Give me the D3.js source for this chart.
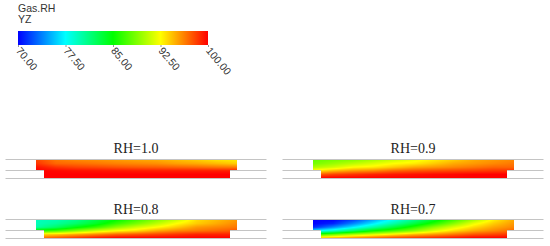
<!DOCTYPE html>
<html>
<head>
<meta charset="utf-8">
<script src="https://cdn.jsdelivr.net/npm/d3@7"></script>
<style>
body { margin: 0; background: #fff; }
svg { display: block; }
</style>
</head>
<body>
<script>
// legend
var legendTicks = [70, 77.5, 85, 92.5, 100];
var legendColors = ["#0000ff", "#00ffff", "#00ff00", "#ffff00", "#ff0000"];
var panelTitles = ["RH=1.0", "RH=0.9", "RH=0.8", "RH=0.7"];

// RH, one row per depth, one value per station along the channel
var fieldRH10 = [
    [98, 96.5, 96, 95.8, 95.5, 95.2, 95, 94.5, 94, 93.3, 93],
    [98.5, 97, 96.8, 96.5, 96.2, 96, 95.8, 95.3, 95, 94.5, 94],
    [99.5, 98.5, 98, 97.8, 97.5, 97.3, 97.2, 97, 96.8, 96.5, 96.3],
    [100, 99.8, 99.6, 99.5, 99.4, 99.3, 99.2, 99.2, 99.2, 99.2, 99.2],
    [100, 100, 100, 100, 100, 100, 100, 100, 100, 100, 100],
    [100, 100, 100, 100, 100, 100, 100, 100, 100, 100, 100]
];
var fieldRH09 = [
    [88, 88.5, 89, 90, 91, 92, 93, 94, 95, 95.5, 96],
    [88.5, 89.5, 90.5, 91.5, 92.5, 93, 94, 95, 95.5, 96, 96.5],
    [90, 91, 92.5, 93, 94, 95, 95.5, 96, 96.5, 97, 97],
    [93, 94.5, 95.5, 96, 97, 97.5, 97.8, 98, 98.2, 98.5, 98.5],
    [97, 98, 98.5, 99, 99.3, 99.5, 99.7, 99.8, 100, 100, 100],
    [100, 100, 100, 100, 100, 100, 100, 100, 100, 100, 100]
];
var fieldRH08 = [
    [79.5, 79.8, 81, 83, 85, 87, 89, 91, 93.5, 94.5, 95.5],
    [79.5, 80.5, 82, 84, 86.5, 88.5, 90.5, 92.5, 94, 95, 96],
    [80, 82, 84.5, 86.5, 89, 91, 92.5, 94, 95.5, 96, 96.5],
    [86, 87, 89, 91, 92.5, 93.5, 95, 96, 96.5, 97, 97.5],
    [93.5, 94, 95, 96, 97, 97.5, 98, 98.5, 99, 99, 99],
    [96.5, 97.5, 98.5, 99.5, 100, 100, 100, 100, 100, 100, 100]
];
var fieldRH07 = [
    [70, 70, 72, 75, 78, 81, 84, 87, 90, 93, 95],
    [70, 71, 74, 77, 80, 83, 86, 89, 92, 94, 95.5],
    [71, 74, 77, 80, 83, 86, 89, 91.5, 93.5, 95, 96],
    [77, 79, 82, 85, 87, 89, 91.5, 93.5, 95, 96, 97],
    [86, 88, 90, 91.5, 93, 94.5, 95.5, 96.5, 97.5, 98, 98.5],
    [94, 95, 96, 97, 98, 98.5, 99, 99.5, 100, 100, 100]
];
var fields = [fieldRH10, fieldRH09, fieldRH08, fieldRH07];
var stations = [0, 0.1, 0.2, 0.3, 0.4, 0.5, 0.6, 0.7, 0.8, 0.9, 1];
var depths = [0, 0.2, 0.4, 0.6, 0.8, 1];

var width = 550, height = 246;
var svg = d3.select("body").append("svg")
    .attr("width", width)
    .attr("height", height);

// color scale is the rainbow from the legend
var color = d3.scaleLinear().domain(legendTicks).range(legendColors);

// legend bar
var legendX = d3.scaleLinear().domain([70, 100]).range([18, 208]);
var legend = svg.append("g").attr("class", "legend");
var defs = svg.append("defs");
var grad = defs.append("linearGradient").attr("id", "rainbow");
grad.selectAll("stop")
    .data(legendTicks)
    .enter().append("stop")
    .attr("offset", function(d) { return (d - 70) / 30; })
    .attr("stop-color", function(d) { return color(d); });
legend.append("rect")
    .attr("x", 18).attr("y", 31)
    .attr("width", 190).attr("height", 14)
    .attr("fill", "url(#rainbow)");

var axis = d3.axisBottom(legendX)
    .tickValues(legendTicks)
    .tickFormat(d3.format(".2f"))
    .tickSize(2);
var axisG = legend.append("g")
    .attr("transform", "translate(0,45)")
    .call(axis);
axisG.select(".domain").remove();
axisG.selectAll("line").attr("stroke", "#999");
axisG.selectAll("text")
    .attr("font-family", "Liberation Sans")
    .attr("font-size", 10.5)
    .attr("fill", "#333")
    .attr("text-anchor", "start")
    .attr("dy", null)
    .attr("y", 0)
    .attr("transform", "translate(-3,6) rotate(50)");

legend.append("text").text("Gas.RH")
    .attr("x", 18).attr("y", 12)
    .attr("font-family", "Liberation Sans").attr("font-size", 10.5).attr("fill", "#333");
legend.append("text").text("YZ")
    .attr("x", 18).attr("y", 23)
    .attr("font-family", "Liberation Sans").attr("font-size", 10.5).attr("fill", "#333");

// look up a value in a field, blending the four nearest readings
function sample(field, u, v) {
    var i = Math.min(d3.bisectRight(stations, u), stations.length - 1);
    var j = Math.min(d3.bisectRight(depths, v), depths.length - 1);
    var tu = (u - stations[i - 1]) / (stations[i] - stations[i - 1]);
    var tv = (v - depths[j - 1]) / (depths[j] - depths[j - 1]);
    var a = d3.interpolateNumber(field[j - 1][i - 1], field[j - 1][i])(tu);
    var b = d3.interpolateNumber(field[j][i - 1], field[j][i])(tu);
    return d3.interpolateNumber(a, b)(tv);
}

// one panel of the channel
function drawPanel(index, left, top, titleY) {
    var g = svg.append("g").attr("class", "panel");
    var x = d3.scaleLinear().domain([0, 1]).range([left, left + 201]);
    var y = d3.scaleLinear().domain([0, 1]).range([top, top + 18]);
    var lineY = [top - 0.5, top + 10.5, top + 18.5];

    g.selectAll("line")
        .data(lineY)
        .enter().append("line")
        .attr("x1", left - 30.5).attr("x2", left + 230.5)
        .attr("y1", function(d) { return d; })
        .attr("y2", function(d) { return d; })
        .attr("stroke", "#c4c4c4");

    g.append("text").text(panelTitles[index])
        .attr("x", left + 100).attr("y", titleY)
        .attr("text-anchor", "middle")
        .attr("font-family", "Liberation Serif")
        .attr("font-size", 14)
        .attr("fill", "#222");

    var cells = [];
    for (var py = top; py < top + 18; py++) {
        // the lower part of the channel is narrower
        var lo = py < top + 10 ? left : left + 8;
        var hi = py < top + 10 ? left + 201 : left + 194;
        for (var px = lo; px < hi; px++) {
            cells.push({
                px: px,
                py: py,
                rh: sample(fields[index], x.invert(px + 0.5), y.invert(py + 0.5))
            });
        }
    }
    g.append("g").selectAll("rect")
        .data(cells)
        .enter().append("rect")
        .attr("x", function(d) { return d.px; })
        .attr("y", function(d) { return d.py; })
        .attr("width", 1)
        .attr("height", 1)
        .attr("shape-rendering", "crispEdges")
        .attr("fill", function(d) { return color(d.rh); });
}

drawPanel(0, 36, 160, 153);
drawPanel(1, 313, 160, 153);
drawPanel(2, 36, 220, 214);
drawPanel(3, 313, 220, 214);
</script>
</body>
</html>
